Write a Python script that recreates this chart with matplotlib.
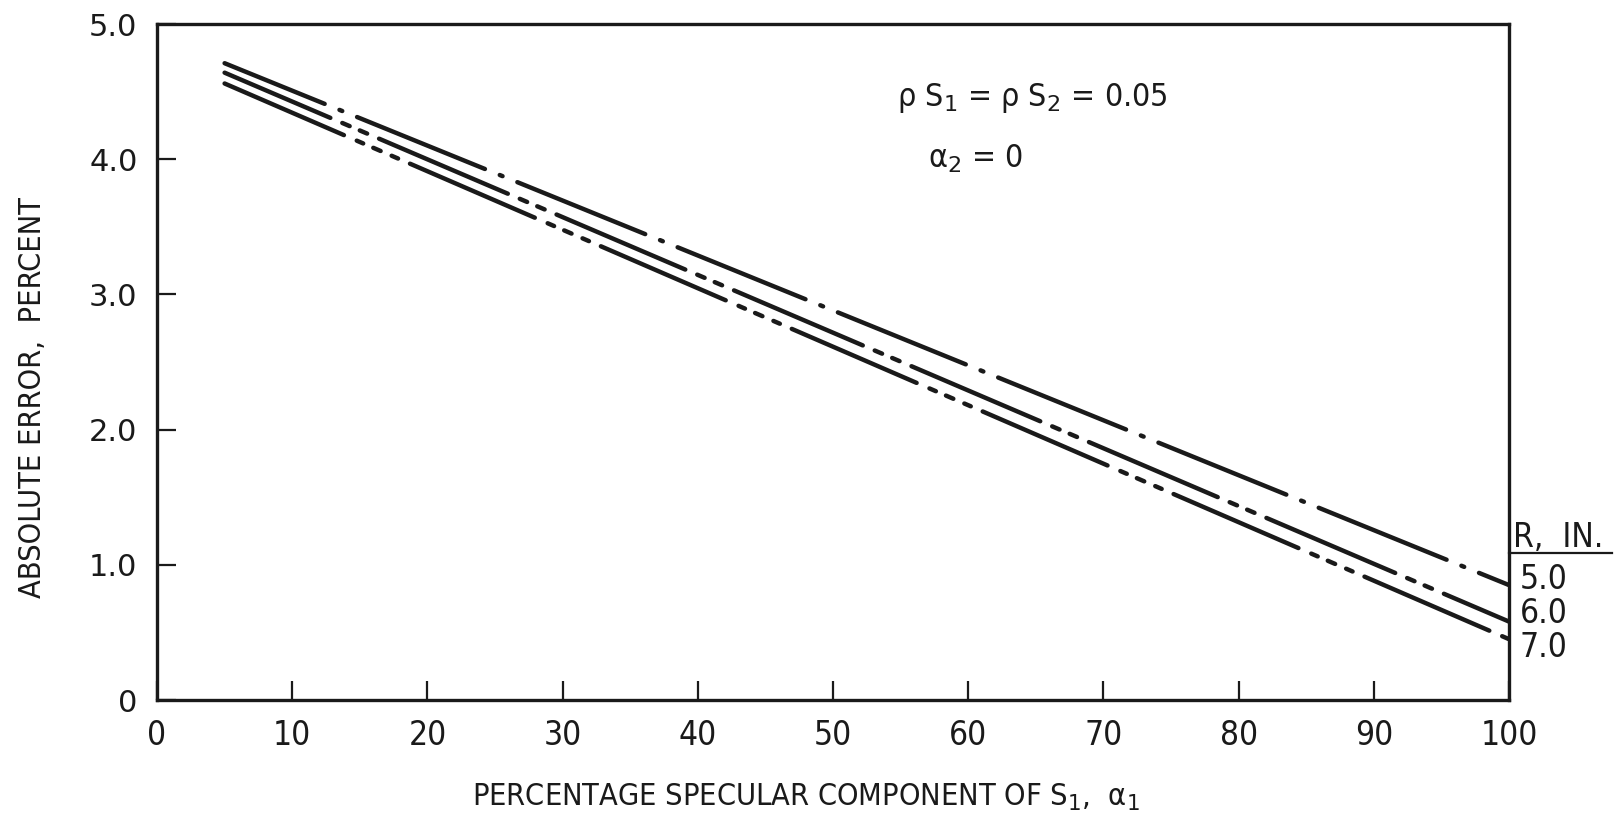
import matplotlib
matplotlib.use("Agg")
import matplotlib.pyplot as plt
from matplotlib import font_manager as fm

# ---- data ----
alpha1 = [5, 100]
err_R5 = [4.71, 0.85]
err_R6 = [4.64, 0.58]
err_R7 = [4.56, 0.45]
radius_labels = ["5.0", "6.0", "7.0"]
xticks = [0, 10, 20, 30, 40, 50, 60, 70, 80, 90, 100]
xticklabels = ["0", "10", "20", "30", "40", "50", "60", "70", "80", "90", "100"]
yticks = [0, 1, 2, 3, 4, 5]
yticklabels = ["0", "1.0", "2.0", "3.0", "4.0", "5.0"]

# look for a condensed face if one is installed
cond = None
for f in fm.fontManager.ttflist:
    fn = f.fname.lower()
    if ("condensed" in fn or "narrow" in fn) and "bold" not in fn and "oblique" not in fn \
            and "italic" not in fn and "light" not in fn:
        cond = f
        break
if cond is not None:
    narrow_name = cond.name
    fs_main = 23
else:
    narrow_name = "Liberation Sans"
    fs_main = 21

plt.rcParams['mathtext.fontset'] = 'custom'
plt.rcParams['mathtext.rm'] = narrow_name
plt.rcParams['mathtext.it'] = narrow_name
plt.rcParams['mathtext.bf'] = narrow_name
plt.rcParams['lines.scale_dashes'] = False

INK = "#1a1a1a"
W, H = 1616, 830
fig = plt.figure(figsize=(W / 100, H / 100), dpi=100)
ax = fig.add_axes([157 / W, 1 - 700 / H, (1509 - 157) / W, (700 - 24) / H])

def fp(size):
    if cond is not None:
        return fm.FontProperties(fname=cond.fname, size=size)
    return fm.FontProperties(family=narrow_name, size=size)

def px(v):
    return v * 0.72

lw = 3.2
styles = [
    (err_R5, [138, 16, 3, 16], 30),
    (err_R6, [140, 13, 8, 11, 8, 13], 25),
    (err_R7, [136, 14, 7, 11, 8, 12, 7, 13], 6),
]
for ys, pattern, off in styles:
    ln, = ax.plot(alpha1, ys, color=INK, lw=lw, solid_capstyle='round',
                  dash_capstyle='round')
    ln.set_linestyle((px(off), [px(v) for v in pattern]))

ax.set_xlim(0, 100)
ax.set_ylim(0, 5)
ax.set_xticks(xticks)
ax.set_xticklabels(xticklabels, fontproperties=fp(fs_main + 1))
ax.set_yticks(yticks)
ax.set_yticklabels(yticklabels, fontfamily="DejaVu Sans", fontsize=22)
ax.tick_params(axis='x', direction='in', length=14, width=1.6, pad=14, colors=INK)
ax.tick_params(axis='y', direction='in', length=14, width=1.6, pad=14, colors=INK)
for s in ax.spines.values():
    s.set_linewidth(2.4)
    s.set_color(INK)

ax.set_xlabel(r"PERCENTAGE SPECULAR COMPONENT OF S$_1$,  α$_1$", fontproperties=fp(22),
              color=INK)
ax.xaxis.set_label_coords(0.48, -0.121)
ax.set_ylabel("ABSOLUTE ERROR,  PERCENT", fontproperties=fp(22), color=INK)
ax.yaxis.set_label_coords(-0.081, 0.447)

ax.text(54.7, 4.45, r"ρ S$_1$ = ρ S$_2$ = 0.05", fontproperties=fp(fs_main),
        ha='left', va='center', color=INK)
ax.text(57.0, 4.0, r"α$_2$ = 0", fontproperties=fp(fs_main),
        ha='left', va='center', color=INK)

# right-hand curve labels
tr = ax.get_yaxis_transform()
ax.text(1.003, 1.13, "R,  IN.", transform=tr, fontproperties=fp(fs_main + 1),
        ha='left', va='baseline', color=INK)
ax.plot([1.0, 1.076], [1.087, 1.087], transform=tr, clip_on=False, color=INK, lw=1.6)
for lab, yv in zip(radius_labels, [0.888, 0.643, 0.392]):
    ax.text(1.008, yv, lab, transform=tr, fontproperties=fp(fs_main + 1),
            ha='left', va='center', color=INK)

fig.savefig("out.png", dpi=100, facecolor="white")
